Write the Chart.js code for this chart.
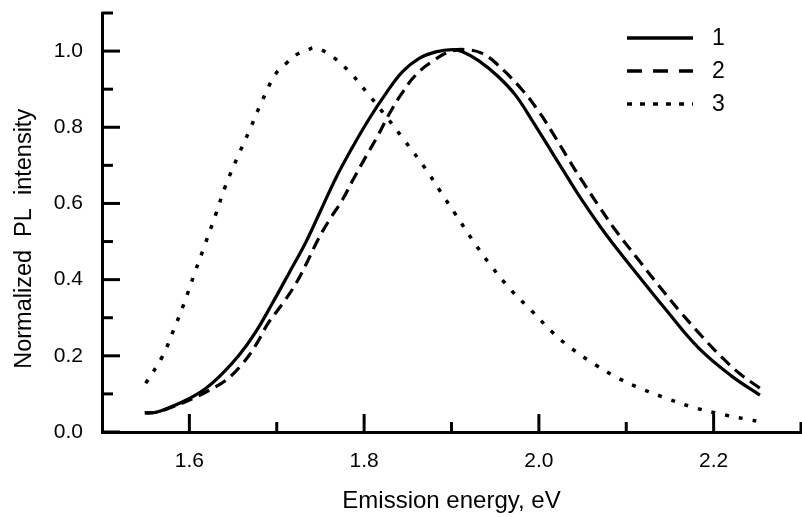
<!DOCTYPE html>
<html>
<head>
<meta charset="utf-8">
<script src="https://cdn.jsdelivr.net/npm/chart.js@4/dist/chart.umd.min.js"></script>
<style>
    html, body { margin: 0; padding: 0; background: #fff; }
    #wrap { width: 802px; height: 517px; }
</style>
</head>
<body>
<div id="wrap"><canvas id="chart" width="802" height="517"></canvas></div>
<script>
// curve 1 (solid)
var energy1 = [1.549, 1.562, 1.581, 1.600, 1.619, 1.638, 1.657, 1.676, 1.695, 1.714, 1.733, 1.749,
               1.768, 1.787, 1.806, 1.825, 1.844, 1.863, 1.882, 1.901, 1.912, 1.931, 1.954, 1.973,
               1.992, 2.011, 2.030, 2.049, 2.076, 2.107, 2.145, 2.183, 2.221, 2.253];
var pl1 = [0.050, 0.052, 0.068, 0.088, 0.115, 0.154, 0.202, 0.263, 0.338, 0.417, 0.497, 0.575,
           0.668, 0.749, 0.823, 0.889, 0.946, 0.981, 0.998, 1.004, 0.999, 0.975, 0.932, 0.885,
           0.819, 0.749, 0.679, 0.610, 0.521, 0.430, 0.322, 0.220, 0.146, 0.097];

// curve 2 (dashed)
var energy2 = [1.549, 1.562, 1.581, 1.604, 1.623, 1.642, 1.661, 1.676, 1.690, 1.707, 1.722, 1.735,
               1.747, 1.760, 1.775, 1.787, 1.802, 1.815, 1.829, 1.842, 1.859, 1.880, 1.901, 1.920,
               1.935, 1.951, 1.981, 2.000, 2.015, 2.034, 2.049, 2.069, 2.086, 2.114, 2.145, 2.162,
               2.187, 2.209, 2.230, 2.253];
var pl2 = [0.050, 0.052, 0.066, 0.088, 0.110, 0.136, 0.180, 0.228, 0.285, 0.338, 0.390, 0.447,
           0.504, 0.556, 0.609, 0.661, 0.723, 0.775, 0.836, 0.885, 0.937, 0.976, 1.001, 1.003,
           0.994, 0.968, 0.898, 0.841, 0.788, 0.716, 0.661, 0.592, 0.535, 0.452, 0.362, 0.315,
           0.250, 0.197, 0.153, 0.115];

// curve 3 (dotted)
var energy3 = [1.550, 1.569, 1.582, 1.594, 1.606, 1.618, 1.630, 1.641, 1.655, 1.669, 1.682, 1.699,
               1.711, 1.722, 1.735, 1.745, 1.764, 1.785, 1.804, 1.827, 1.846, 1.870, 1.888, 1.905,
               1.924, 1.943, 1.968, 1.991, 2.015, 2.037, 2.065, 2.091, 2.119, 2.149, 2.175, 2.204,
               2.237, 2.253];
var pl3 = [0.128, 0.198, 0.268, 0.338, 0.417, 0.493, 0.570, 0.644, 0.721, 0.793, 0.863, 0.941,
           0.968, 0.990, 1.003, 1.008, 0.985, 0.941, 0.889, 0.823, 0.766, 0.692, 0.629, 0.570,
           0.504, 0.443, 0.373, 0.320, 0.263, 0.220, 0.176, 0.141, 0.112, 0.086, 0.066, 0.049,
           0.034, 0.027];

var seriesLabels = ['1', '2', '3'];
var xTickValues = [1.6, 1.8, 2.0, 2.2];
var xMinorValues = [1.7, 1.9, 2.1, 2.3];
var yTickValues = [0.0, 0.2, 0.4, 0.6, 0.8, 1.0];
var yMinorValues = [0.1, 0.3, 0.5, 0.7, 0.9, 1.1];

var FONT = '"Liberation Sans", Arial, sans-serif';

function toPoints(xs, ys) {
    return xs.map(function (x, i) { return { x: x, y: ys[i] }; });
}

function setTicks(values) {
    return function (scale) {
        scale.ticks = values.map(function (v) { return { value: v }; });
    };
}

// tick marks pointing into the plot, long for labelled ticks, short for the others
var innerTicks = {
    id: 'innerTicks',
    afterDraw: function (chart) {
        var ctx = chart.ctx;
        var area = chart.chartArea;
        var xs = chart.scales.x;
        var ys = chart.scales.y;
        var mark = function (x1, y1, x2, y2) {
            ctx.beginPath();
            ctx.moveTo(x1, y1);
            ctx.lineTo(x2, y2);
            ctx.stroke();
        };
        ctx.save();
        ctx.strokeStyle = '#000';
        ctx.lineWidth = 3;
        ctx.setLineDash([]);
        xTickValues.forEach(function (v) {
            var px = xs.getPixelForValue(v);
            mark(px, area.bottom, px, area.bottom - 18);
        });
        xMinorValues.forEach(function (v) {
            var px = xs.getPixelForValue(v);
            mark(px, area.bottom, px, area.bottom - 10);
        });
        yTickValues.forEach(function (v) {
            var py = ys.getPixelForValue(v);
            mark(area.left, py, area.left + 18, py);
        });
        yMinorValues.forEach(function (v) {
            var py = ys.getPixelForValue(v);
            mark(area.left, py, area.left + 11, py);
        });
        ctx.restore();
    }
};

// legend in the upper right corner: short line sample + number
var sideLegend = {
    id: 'sideLegend',
    afterDraw: function (chart) {
        var ctx = chart.ctx;
        var legendDash = [[], [15, 11], [5, 8]];
        ctx.save();
        ctx.strokeStyle = '#000';
        ctx.fillStyle = '#000';
        ctx.lineWidth = 3.5;
        ctx.lineCap = 'butt';
        ctx.font = '23px ' + FONT;
        ctx.textAlign = 'left';
        ctx.textBaseline = 'middle';
        chart.data.datasets.forEach(function (ds, i) {
            var yy = 38 + i * 33;
            ctx.setLineDash(legendDash[i]);
            ctx.beginPath();
            ctx.moveTo(627, yy);
            ctx.lineTo(693, yy);
            ctx.stroke();
            ctx.fillText(ds.label, 712, yy + 1);
        });
        ctx.restore();
    }
};

var ctx = document.getElementById('chart').getContext('2d');

var chart = new Chart(ctx, {
    type: 'line',
    data: {
        datasets: [
            {
                label: seriesLabels[0],
                data: toPoints(energy1, pl1),
                borderColor: '#000',
                borderWidth: 3.2,
                pointRadius: 0,
                fill: false,
                tension: 0.4
            },
            {
                label: seriesLabels[1],
                data: toPoints(energy2, pl2),
                borderColor: '#000',
                borderWidth: 3.2,
                borderDash: [12, 7],
                pointRadius: 0,
                fill: false,
                tension: 0.4
            },
            {
                label: seriesLabels[2],
                data: toPoints(energy3, pl3),
                borderColor: '#000',
                borderWidth: 3.5,
                borderDash: [4, 10],
                pointRadius: 0,
                fill: false,
                tension: 0.4
            }
        ]
    },
    options: {
        responsive: false,
        animation: false,
        devicePixelRatio: 1,
        layout: {
            padding: { top: 13, right: 1, left: 0, bottom: 0 }
        },
        scales: {
            x: {
                type: 'linear',
                min: 1.5,
                max: 2.3,
                afterBuildTicks: setTicks(xTickValues),
                afterFit: function (scale) {
                    scale.height = 85;
                    scale.paddingLeft = 0;
                    scale.paddingRight = 0;
                },
                grid: { display: true, drawOnChartArea: false, drawTicks: false },
                border: { display: true, color: '#000', width: 3 },
                ticks: {
                    color: '#000',
                    padding: 17,
                    font: { family: FONT, size: 21 },
                    maxRotation: 0,
                    callback: function (v) { return Number(v).toFixed(1); }
                },
                title: {
                    display: true,
                    text: 'Emission energy, eV',
                    color: '#000',
                    font: { family: FONT, size: 24 },
                    padding: { top: 0, bottom: 1 }
                }
            },
            y: {
                min: 0,
                max: 1.1,
                afterBuildTicks: setTicks(yTickValues),
                afterFit: function (scale) {
                    scale.width = 102;
                    scale.paddingTop = 0;
                    scale.paddingBottom = 0;
                },
                grid: { display: true, drawOnChartArea: false, drawTicks: false },
                border: { display: true, color: '#000', width: 3 },
                ticks: {
                    color: '#000',
                    padding: 19,
                    font: { family: FONT, size: 21 },
                    callback: function (v) { return Number(v).toFixed(1); }
                },
                title: {
                    display: true,
                    text: 'Normalized  PL  intensity     ',
                    color: '#000',
                    font: { family: FONT, size: 23.5 },
                    padding: { top: 10, bottom: 0 }
                }
            }
        },
        plugins: {
            legend: { display: false },
            tooltip: { enabled: false }
        }
    },
    plugins: [innerTicks, sideLegend]
});
</script>
</body>
</html>
